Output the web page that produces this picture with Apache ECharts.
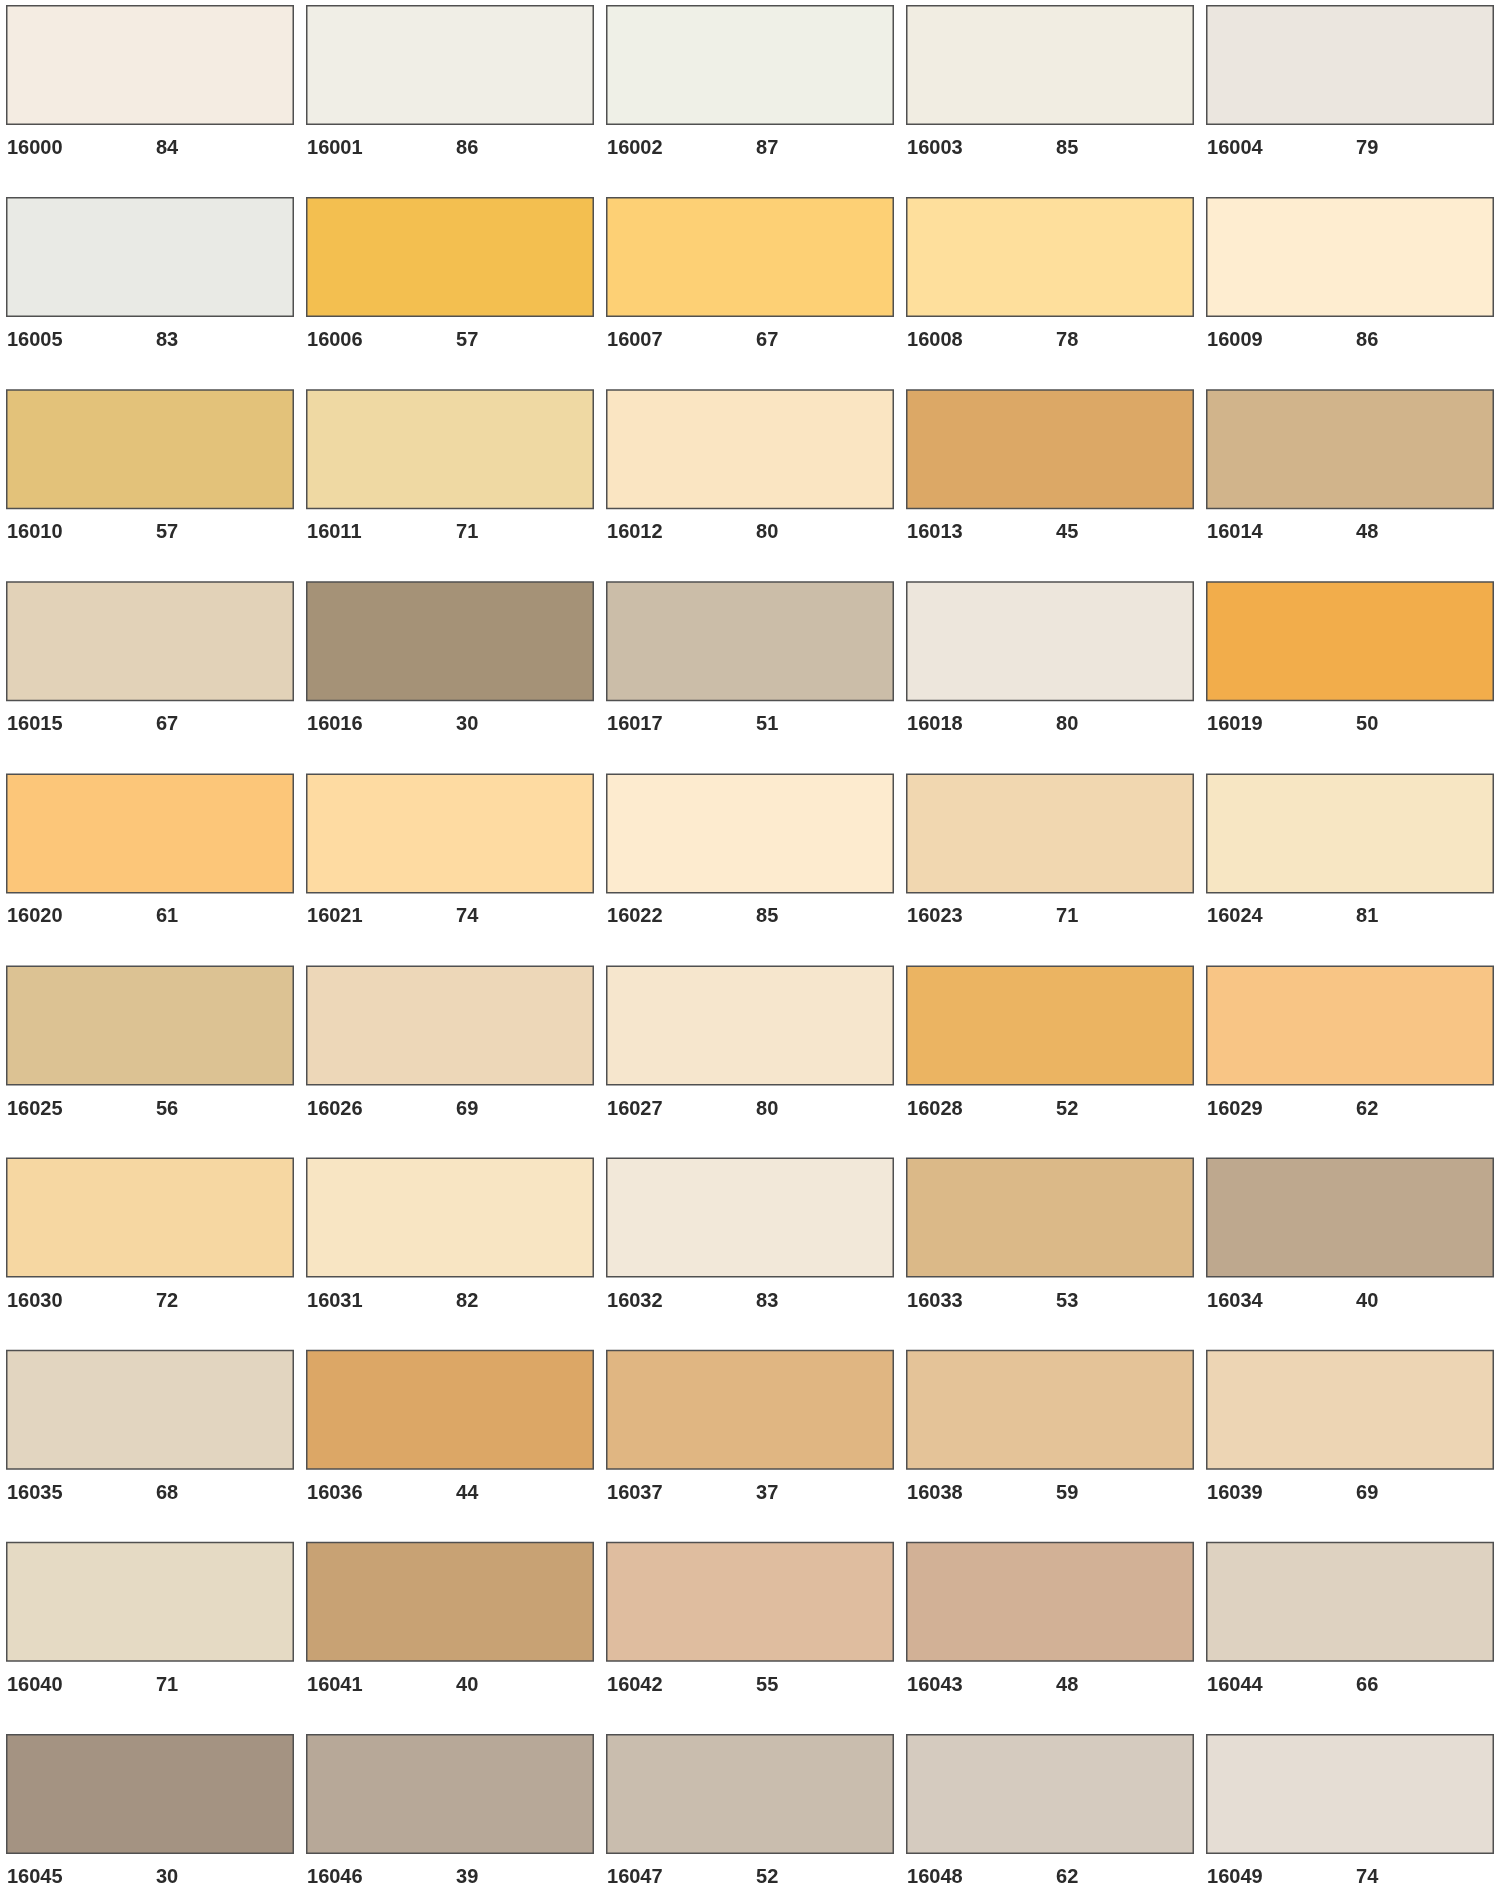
<!DOCTYPE html>
<html>
<head>
<meta charset="utf-8">
<script src="https://cdn.jsdelivr.net/npm/echarts@6/dist/echarts.min.js"></script>
<style>
html,body{margin:0;padding:0;background:#fff;}
#chart{width:1501px;height:1889px;}
</style>
</head>
<body>
<div id="chart"></div>
<script>
var codes = ["16000","16001","16002","16003","16004","16005","16006","16007","16008","16009",
"16010","16011","16012","16013","16014","16015","16016","16017","16018","16019",
"16020","16021","16022","16023","16024","16025","16026","16027","16028","16029",
"16030","16031","16032","16033","16034","16035","16036","16037","16038","16039",
"16040","16041","16042","16043","16044","16045","16046","16047","16048","16049"];
var values = [84,86,87,85,79, 83,57,67,78,86, 57,71,80,45,48, 67,30,51,80,50,
61,74,85,71,81, 56,69,80,52,62, 72,82,83,53,40, 68,44,37,59,69,
71,40,55,48,66, 30,39,52,62,74];
var colors = ["#f4ece2","#f0eee6","#eff0e7","#f1ede2","#ebe6df",
"#e9eae5","#f3bf50","#fdd075","#fedf9c","#feedd0",
"#e3c27a","#efd9a3","#fae5c2","#dca866","#d1b48b",
"#e2d2b8","#a59277","#cbbda8","#ede6dc","#f2ad4b",
"#fcc679","#fedba2","#fdebcf","#f1d7b0","#f7e6c3",
"#dcc293","#edd7b8","#f6e6cd","#ebb462","#f8c585",
"#f6d7a2","#f8e5c3","#f2e8d9","#dbb988","#bea88e",
"#e2d5c0","#dca766","#e0b682","#e4c398","#edd5b4",
"#e5dac4","#c8a274","#dfbd9f","#d2b196","#ded2c1",
"#a49382","#b7a898","#c9bdae","#d5cbbf","#e5ddd4"];
var numCols = 5;

var data = codes.map(function(c, i){
  return [i % numCols, Math.floor(i / numCols), c, values[i], colors[i]];
});

var chart = echarts.init(document.getElementById('chart'), null, {renderer:'canvas'});
chart.setOption({
  animation:false,
  backgroundColor:'#ffffff',
  grid:{left:6, top:5, width:1495, height:1882.6},
  xAxis:{type:'value', min:0, max:4.9833, show:false},
  yAxis:{type:'value', min:0, max:9.8, inverse:true, show:false},
  series:[{
    type:'custom',
    data:data,
    encode:{x:0, y:1},
    clip:false,
    renderItem:function(params, api){
      var p = api.coord([api.value(0), api.value(1)]);
      var idx = params.dataIndex;
      var w = 288, h = 120;
      var font = 'bold 20px "Liberation Sans", Arial, sans-serif';
      return {
        type:'group',
        children:[
          {type:'rect', shape:{x:p[0]+0.75, y:p[1]+0.75, width:w-1.5, height:h-1.5},
           style:{fill:colors[idx], stroke:'#505050', lineWidth:1.5}},
          {type:'text', style:{x:p[0]+1, y:p[1]+143.5, text:codes[idx], fill:'#2b2b2b',
            font:font, verticalAlign:'middle', align:'left'}},
          {type:'text', style:{x:p[0]+150, y:p[1]+143.5, text:String(values[idx]), fill:'#2b2b2b',
            font:font, verticalAlign:'middle', align:'left'}}
        ]
      };
    }
  }]
});
</script>
</body>
</html>
